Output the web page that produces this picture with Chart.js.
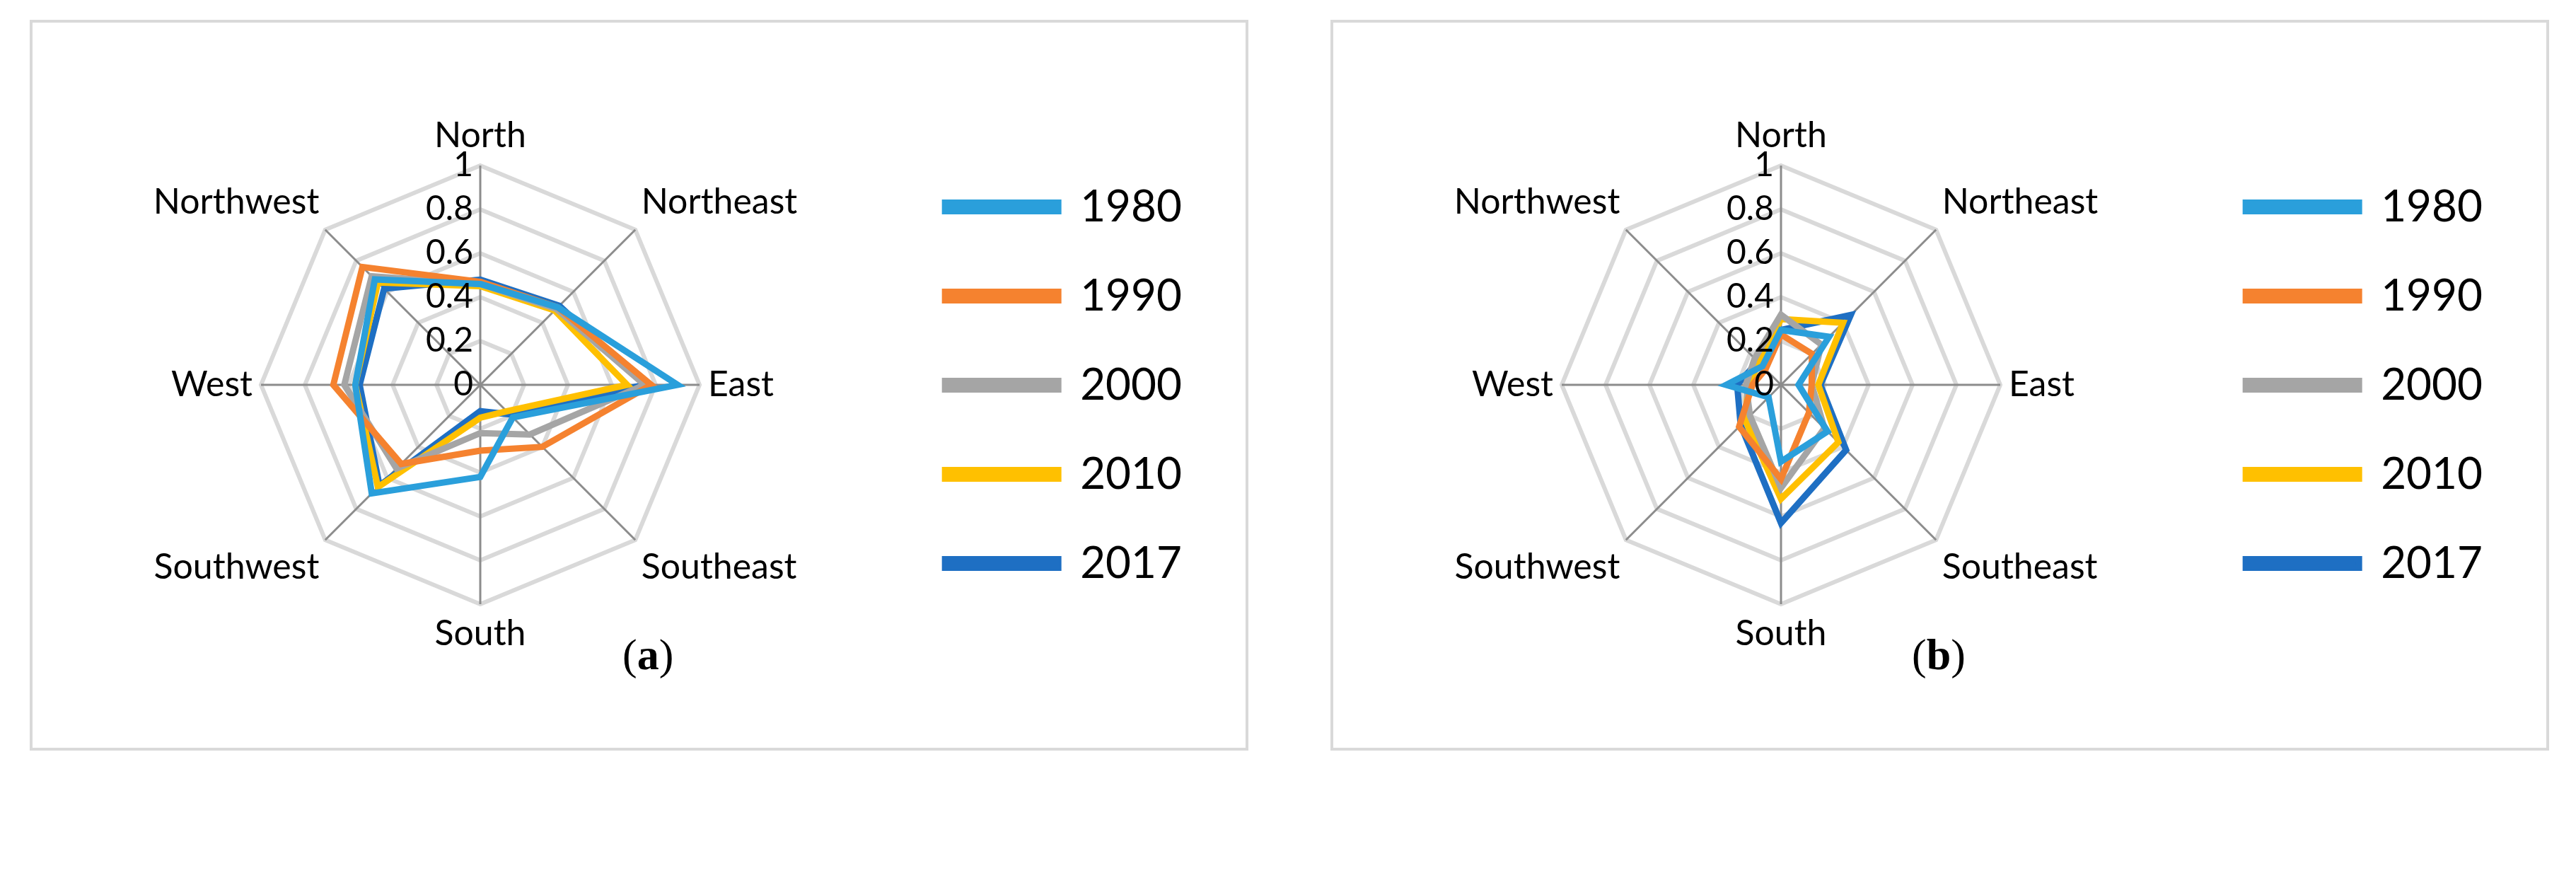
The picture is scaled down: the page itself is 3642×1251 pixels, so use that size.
<!DOCTYPE html>
<html>
<head>
<meta charset="utf-8">
<script src="https://cdn.jsdelivr.net/npm/chart.js@4.4.1/dist/chart.umd.min.js"></script>
<style>
  body { margin: 0; background: #fff; width: 3642px; height: 1251px; position: relative; font-family: Lato, sans-serif; }
  .panel { position: absolute; top: 28px; width: 1715px; height: 1025px; border: 4px solid #d9d9d9; }
  .cap { position: absolute; top: 890px; font-family: "Liberation Serif", serif; font-size: 62px; }
</style>
</head>
<body>
<div class="panel" style="left:42px"><canvas id="chartA"></canvas></div>
<div class="panel" style="left:1881px"><canvas id="chartB"></canvas></div>
<div class="cap" style="left:880px">(<b>a</b>)</div>
<div class="cap" style="left:2703px">(<b>b</b>)</div>
<script>
// categories and years
var directions = ['North', 'Northeast', 'East', 'Southeast', 'South', 'Southwest', 'West', 'Northwest'];
var years = ['1980', '1990', '2000', '2010', '2017'];
var colors = ['#2a9fdb', '#f5822f', '#a5a5a5', '#ffc000', '#1e6fc3'];
var tickValues = [0, 0.2, 0.4, 0.6, 0.8, 1];

// panel (a)
var a1980 = [0.46, 0.50, 0.90, 0.21, 0.42, 0.70, 0.57, 0.68];
var a1990 = [0.47, 0.50, 0.78, 0.40, 0.30, 0.51, 0.67, 0.76];
var a2000 = [0.46, 0.49, 0.75, 0.32, 0.22, 0.54, 0.62, 0.70];
var a2010 = [0.45, 0.48, 0.67, 0.17, 0.15, 0.66, 0.57, 0.66];
var a2017 = [0.48, 0.51, 0.75, 0.19, 0.12, 0.65, 0.55, 0.62];

// panel (b)
var b1980 = [0.25, 0.31, 0.08, 0.30, 0.35, 0.08, 0.25, 0.12];
var b1990 = [0.23, 0.20, 0.14, 0.18, 0.43, 0.27, 0.13, 0.10];
var b2000 = [0.32, 0.26, 0.14, 0.28, 0.47, 0.20, 0.16, 0.17];
var b2010 = [0.30, 0.40, 0.17, 0.37, 0.52, 0.23, 0.15, 0.14];
var b2017 = [0.25, 0.45, 0.18, 0.42, 0.63, 0.26, 0.20, 0.15];

// draw tick labels left of the north axis, like Excel does
var tickPlugin = {
    id: 'sideTicks',
    afterDraw: function (chart) {
        var r = chart.scales.r;
        var ctx = chart.ctx;
        ctx.save();
        ctx.fillStyle = '#000';
        ctx.font = '48px Lato';
        ctx.textAlign = 'right';
        ctx.textBaseline = 'middle';
        tickValues.forEach(function (v) {
            var d = r.getDistanceFromCenterForValue(v);
            ctx.fillText(String(v), r.xCenter - 10, r.yCenter - d);
        });
        ctx.restore();
    }
};

function makeChart(id, series) {
    var ctx = document.getElementById(id).getContext('2d');
    return new Chart(ctx, {
        type: 'radar',
        data: {
            labels: directions,
            datasets: years.map(function (y, i) {
                return {
                    label: y,
                    data: series[i],
                    borderColor: colors[i],
                    backgroundColor: colors[i],
                    fill: false,
                    borderWidth: 9,
                    pointRadius: 0,
                    borderJoinStyle: 'miter'
                };
            })
        },
        options: {
            responsive: true,
            maintainAspectRatio: false,
            animation: false,
            layout: { padding: { top: 130, bottom: 130, left: 40, right: 80 } },
            plugins: {
                tooltip: { enabled: false },
                legend: {
                    position: 'right',
                    labels: {
                        boxWidth: 160,
                        boxHeight: 12,
                        padding: 64,
                        color: '#000',
                        font: { family: 'Lato', size: 62 }
                    }
                }
            },
            scales: {
                r: {
                    min: 0,
                    max: 1,
                    ticks: { display: false, stepSize: 0.2 },
                    grid: { color: '#d9d9d9', lineWidth: 6 },
                    angleLines: { color: '#8c8c8c', lineWidth: 3 },
                    pointLabels: { color: '#000', padding: 12, font: { family: 'Lato', size: 50 } }
                }
            }
        },
        plugins: [tickPlugin]
    });
}

makeChart('chartA', [a1980, a1990, a2000, a2010, a2017]);
makeChart('chartB', [b1980, b1990, b2000, b2010, b2017]);
</script>
</body>
</html>
